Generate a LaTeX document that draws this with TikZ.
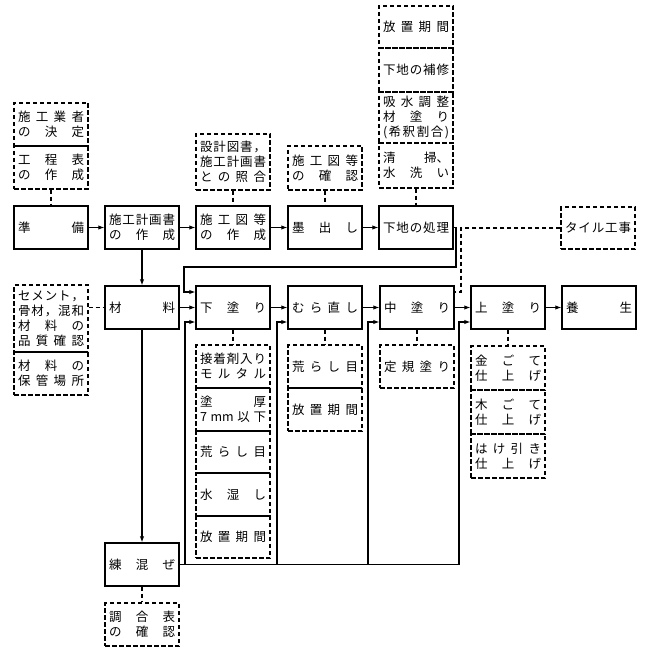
\documentclass[tikz,border=0pt]{standalone}
\usepackage{fontspec}
\newfontfamily\jp{Noto Sans CJK JP}
\usetikzlibrary{arrows.meta}
\newlength\lw \setlength\lw{66pt}
\def\jsp#1{\leavevmode\hbox to\lw{\JspA#1\JspEnd}}
\def\JspA#1#2\JspEnd{#1\ifx\relax#2\relax\else\hfill\JspA#2\JspEnd\fi}
\newcommand\jline[1]{\leavevmode\hbox to\lw{#1}}
\begin{document}
\begin{tikzpicture}[x=1pt,y=-1pt,
  txt/.style={inner sep=0pt, minimum width=74pt, text width=66pt, align=left,
    font={\jp\fontsize{12.5}{15}\selectfont}},
  mbox/.style={txt, draw, line width=1.4pt, minimum height=43pt},
  dbox/.style={txt, draw, line width=1.2pt, dash pattern=on 4.5pt off 2.5pt},
  conn/.style={line width=1.1pt},
  arr/.style={conn, -{Latex[length=6pt,width=4.5pt]}},
  dcon/.style={line width=1.2pt, dash pattern=on 4.5pt off 2.5pt}]
\useasboundingbox (0,0) rectangle (650,652);
\fill[white] (0,0) rectangle (650,652);

% main row 1
\node[mbox] (jb) at (51,227.5) {\jsp{準備}};
\node[mbox] (sk) at (142,227.5) {\jsp{施工計画書}\\\jsp{の作成}};
\node[mbox] (sz) at (233,227.5) {\jsp{施工図等}\\\jsp{の作成}};
\node[mbox] (sm) at (325,227.5) {\jsp{墨出し}};
\node[mbox] (sh) at (416,227.5) {\jsp{下地の処理}};
\node[dbox, minimum height=42pt] (tile) at (598,228) {\jsp{タイル工事}};

% main row 2
\node[mbox] (zai) at (142,307.5) {\jsp{材料}};
\node[mbox] (shita) at (233,307.5) {\jsp{下塗り}};
\node[mbox] (mura) at (325,307.5) {\jsp{むら直し}};
\node[mbox] (naka) at (417,307.5) {\jsp{中塗り}};
\node[mbox] (uwa) at (508,307.5) {\jsp{上塗り}};
\node[mbox] (yojo) at (599,307.5) {\jsp{養生}};

% row 3
\node[mbox] (neri) at (142,564.5) {\jsp{練混ぜ}};
\node[dbox, minimum height=43pt] (chogo) at (142,624.5) {\jsp{調合表}\\\jsp{の確認}};

% dashed stacks
\node[dbox, minimum height=43pt] (d1) at (51,124.5) {\jsp{施工業者}\\\jsp{の決定}};
\node[dbox, minimum height=43pt] (d2) at (51,167.5) {\jsp{工程表}\\\jsp{の作成}};
\node[dbox, minimum height=56pt] (d3) at (233,162) {\jsp{設計図書，}\\\jsp{施工計画書}\\\jsp{との照合}};
\node[dbox, minimum height=44pt] (d4) at (325,168) {\jsp{施工図等}\\\jsp{の確認}};
\node[dbox, minimum height=42pt] (d5) at (416,27) {\jsp{放置期間}};
\node[dbox, minimum height=44pt] (d6) at (416,70) {\jsp{下地の補修}};
\node[dbox, minimum height=51pt] (d7) at (416,117.5) {\jsp{吸水調整}\\\jsp{材塗り}\\\jline{(\hfill 希\hfill 釈\hfill 割\hfill 合\hfill )}};
\node[dbox, minimum height=45pt] (d8) at (416,165.5) {\jline{清\hfill 掃、}\\\jsp{水洗い}};

\node[dbox, minimum height=67pt] (d9) at (51,318.5) {\jsp{セメント，}\\\jsp{骨材，混和}\\\jsp{材料の}\\\jsp{品質確認}};
\node[dbox, minimum height=43pt] (d10) at (51,373.5) {\jsp{材料の}\\\jsp{保管場所}};

\node[dbox, minimum height=43pt] (d11) at (233,366.5) {\jsp{接着剤入り}\\\jsp{モルタル}};
\node[dbox, minimum height=43pt] (d12) at (233,409.5) {\jsp{塗厚}\\\jline{7\hfill mm\hfill 以\hfill 下}};
\node[dbox, minimum height=42pt] (d13) at (233,452) {\jsp{荒らし目}};
\node[dbox, minimum height=43pt] (d14) at (233,494.5) {\jsp{水湿し}};
\node[dbox, minimum height=42pt] (d15) at (233,537) {\jsp{放置期間}};

\node[dbox, minimum height=43pt] (d16) at (325,366.5) {\jsp{荒らし目}};
\node[dbox, minimum height=43pt] (d17) at (325,409.5) {\jsp{放置期間}};

\node[dbox, minimum height=43pt] (d18) at (417,366.5) {\jsp{定規塗り}};

\node[dbox, minimum height=44pt] (d19) at (508,368) {\jsp{金ごて}\\\jsp{仕上げ}};
\node[dbox, minimum height=44pt] (d20) at (508,412) {\jsp{木ごて}\\\jsp{仕上げ}};
\node[dbox, minimum height=44pt] (d21) at (508,456) {\jsp{はけ引き}\\\jsp{仕上げ}};

% dashed connectors
\draw[dcon] (d2.south) -- (jb.north);
\draw[dcon] (d3.south) -- (sz.north);
\draw[dcon] (d4.south) -- (sm.north);
\draw[dcon] (d8.south) -- (sh.north);
\draw[dcon] (shita.south) -- (d11.north);
\draw[dcon] (mura.south) -- (d16.north);
\draw[dcon] (naka.south) -- (d18.north);
\draw[dcon] (uwa.south) -- (d19.north);
\draw[dcon] (neri.south) -- (chogo.north);
\draw[dcon] (d9.east |- zai.west) -- (zai.west);
\coordinate (tc) at (461,292);
\draw[dcon] (tile.west) -| (tc) -- (naka.east |- tc);

% solid connectors row 1
\draw[arr] (jb) -- (sk);
\draw[arr] (sk) -- (sz);
\draw[arr] (sz) -- (sm);
\draw[arr] (sm) -- (sh);
\draw[arr] (sk) -- (zai);
\draw[arr] (zai) -- (neri);
% row 2
\draw[arr] (zai) -- (shita);
\draw[arr] (shita) -- (mura);
\draw[arr] (mura) -- (naka);
\draw[arr] (naka) -- (uwa);
\draw[arr] (uwa) -- (yojo);

% loop from 下地の処理 to 下塗り
\coordinate (r1) at (456,267);
\coordinate (l1) at (184,267);
\draw[arr] (sh.east) -| (r1) -- (l1) |- ([yshift=15.5pt]shita.west);

% return lines from 練混ぜ
\coordinate (bx1) at (185,0);
\coordinate (bx2) at (277,0);
\coordinate (bx3) at (368,0);
\coordinate (bx4) at (459,0);
\draw[conn] (neri.east) -- (neri.east -| bx4);
\draw[arr] (neri.east -| bx1) |- ([yshift=-14.5pt]shita.west);
\draw[arr] (neri.east -| bx2) |- ([yshift=-14.5pt]mura.west);
\draw[arr] (neri.east -| bx3) |- ([yshift=-14.5pt]naka.west);
\draw[arr] (neri.east -| bx4) |- ([yshift=-14.5pt]uwa.west);
\end{tikzpicture}
\end{document}
